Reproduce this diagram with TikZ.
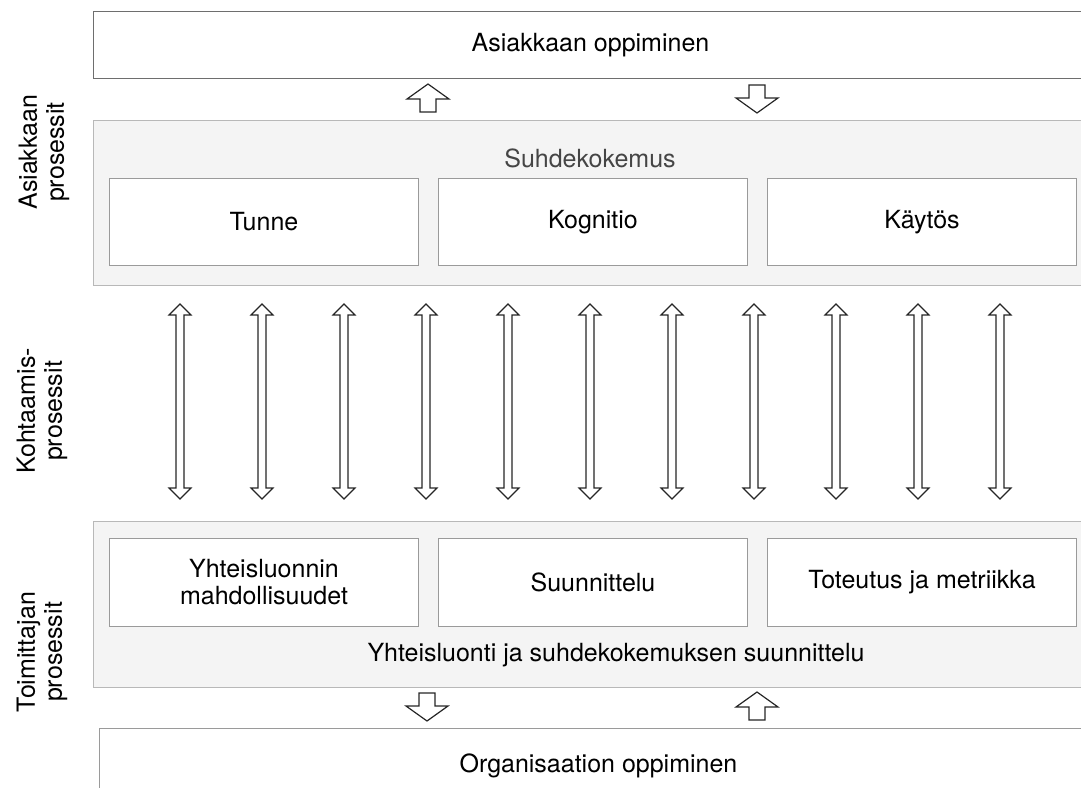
\documentclass[tikz,border=0pt]{standalone}
\usepackage{fontspec}
\setmainfont{TeX Gyre Heros}
\definecolor{boxline}{HTML}{9A9A9A}
\definecolor{topline}{HTML}{6E6E6E}
\definecolor{panelfill}{HTML}{F4F4F4}
\definecolor{panelline}{HTML}{B8B8B8}
\definecolor{softtext}{HTML}{454545}
\begin{document}
\begin{tikzpicture}[x=1pt,y=-1pt,
  every node/.style={font=\fontsize{25}{27}\selectfont, inner sep=0pt},
  plainbox/.style={draw=boxline, fill=white, line width=1pt, align=center, anchor=north west},
  panel/.style={draw=panelline, fill=panelfill, line width=1pt, anchor=north west},
  sidelabel/.style={rotate=90, align=center},
  arrowline/.style={draw=black!85, fill=white, line width=1.2pt, line join=miter},
  blockup/.pic={\path[arrowline] (-8,14) -- (-8,1) -- (-21,1) -- (0,-14) -- (21,1) -- (8,1) -- (8,14) -- cycle;},
  blockdown/.pic={\path[arrowline] (-8,-14) -- (-8,-1) -- (-21,-1) -- (0,14) -- (21,-1) -- (8,-1) -- (8,-14) -- cycle;},
  updown/.pic={\path[arrowline] (0,-97.5) -- (11,-86.5) -- (4,-86.5) -- (4,86.5) -- (11,86.5) -- (0,97.5)
      -- (-11,86.5) -- (-4,86.5) -- (-4,-86.5) -- (-11,-86.5) -- cycle;}
]
\useasboundingbox (0,0) rectangle (1081,787);
\clip (0,0) rectangle (1081,787);

% customer learning
\node[plainbox, draw=topline, minimum width=994pt, minimum height=67pt] (custlearn) at (93,11) {Asiakkaan oppiminen};

% customer processes: relationship experience
\node[panel, minimum width=994pt, minimum height=165pt] (custpanel) at (93,120) {};
\node[text=softtext] (experience) at (590,158) {Suhdekokemus};
\node[plainbox, minimum width=309pt, minimum height=87pt] (emotion) at (109,178) {Tunne};
\node[plainbox, minimum width=309pt, minimum height=87pt] (cognition) at (438,178) {Kognitio};
\node[plainbox, minimum width=309pt, minimum height=87pt] (behaviour) at (767,178) {Käytös};

% supplier processes: co-creation and design
\node[panel, minimum width=994pt, minimum height=166pt] (supppanel) at (93,521) {};
\node[plainbox, minimum width=309pt, minimum height=88pt] (opportunities) at (109,538) {Yhteisluonnin\\mahdollisuudet};
\node[plainbox, minimum width=309pt, minimum height=88pt] (planning) at (438,538) {Suunnittelu};
\node[plainbox, minimum width=309pt, minimum height=88pt] (implementation) at (767,538) {Toteutus ja metriikka};
\node (cocreation) at (616,655) {Yhteisluonti ja suhdekokemuksen suunnittelu};

% organisational learning
\node[plainbox, minimum width=998pt, minimum height=74pt] (orglearn) at (99,728) {Organisaation oppiminen};

% side labels
\node[sidelabel] (lblcust) at (44,152) {Asiakkaan\\prosessit};
\node[sidelabel] (lblencounter) at (42,411) {Kohtaamis-\\prosessit};
\node[sidelabel] (lblsupp) at (42,652) {Toimittajan\\prosessit};

% exchanges between learning and processes
\pic at (428,98) {blockup};
\pic at (757,99) {blockdown};
\pic at (427,707) {blockdown};
\pic at (757,706) {blockup};

% encounter processes
\foreach \i in {0,...,10}
  \pic at ({180+82*\i},401.5) {updown};
\end{tikzpicture}
\end{document}
